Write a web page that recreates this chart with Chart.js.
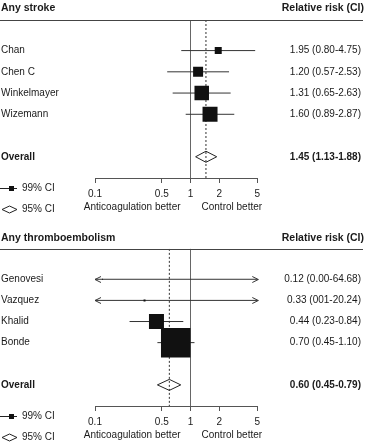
<!DOCTYPE html>
<html><head><meta charset="utf-8">
<script src="https://cdn.jsdelivr.net/npm/chart.js@4/dist/chart.umd.min.js"></script>
<style>
html,body{margin:0;padding:0;background:#fff;}
canvas{display:block;}
</style></head>
<body>
<canvas id="c1" width="367" height="228"></canvas>
<canvas id="c2" width="367" height="216"></canvas>
<script>
// ---------- data ----------
const strokeStudies = ['Chan', 'Chen C', 'Winkelmayer', 'Wizemann'];
const strokeRR = [1.95, 1.20, 1.31, 1.60];
const strokeLo = [0.80, 0.57, 0.65, 0.89];
const strokeHi = [4.75, 2.53, 2.63, 2.87];
const strokeWeight = [7, 10, 14.5, 15];
const strokeCI = ['1.95 (0.80-4.75)', '1.20 (0.57-2.53)', '1.31 (0.65-2.63)', '1.60 (0.89-2.87)'];
const strokeOverall = [1.45, 1.13, 1.88];
const strokeOverallCI = '1.45 (1.13-1.88)';

const teStudies = ['Genovesi', 'Vazquez', 'Khalid', 'Bonde'];
const teRR = [0.12, 0.33, 0.44, 0.70];
const teLo = [0.00, 0.01, 0.23, 0.45];
const teHi = [64.68, 20.24, 0.84, 1.10];
const teWeight = [1, 2, 15, 29.5];
const teCI = ['0.12 (0.00-64.68)', '0.33 (001-20.24)', '0.44 (0.23-0.84)', '0.70 (0.45-1.10)'];
const teOverall = [0.60, 0.45, 0.79];
const teOverallCI = '0.60 (0.45-0.79)';

const xTicks = [0.1, 0.5, 1, 2, 5];
const xMin = 0.1, xMax = 5;

// ---------- style ----------
const FONT = '"Liberation Sans", Arial, Helvetica, sans-serif';
const TXT = '#1a1a1a';
const LINE = '#333';
const AXIS = '#555';

function makePanel(canvas, p) {
  const n = p.studies.length;
  const rows = p.studies.map((s, i) => i + 1);
  const overallRow = n + 2;
  const yMin = -0.44, yMax = 7.0;
  const leftMap = {}, rightMap = {};
  rows.forEach((r, i) => { leftMap[r] = p.studies[i]; rightMap[r] = p.ci[i]; });
  leftMap[overallRow] = 'Overall';
  rightMap[overallRow] = p.overallCI;
  const tickRows = rows.concat([overallRow]);
  const H = canvas.height;
  const axisY = 178;

  const datasets = [];
  // boxes
  datasets.push({
    data: p.rr.map((v, i) => ({x: v, y: rows[i]})),
    showLine: false, pointStyle: 'rect',
    pointRadius: ctx => p.weight[ctx.dataIndex] / Math.SQRT2,
    backgroundColor: '#111', borderWidth: 0, order: 1
  });
  // CI lines
  p.rr.forEach((v, i) => {
    datasets.push({
      data: [{x: Math.max(p.lo[i], xMin), y: rows[i]}, {x: Math.min(p.hi[i], xMax), y: rows[i]}],
      showLine: true, pointRadius: 0, borderColor: LINE, borderWidth: 1, order: 2
    });
  });
  // overall diamond
  const dh = 0.26;
  const [oe, ol, oh] = p.overall;
  datasets.push({
    data: [{x: ol, y: overallRow}, {x: oe, y: overallRow - dh}, {x: oh, y: overallRow},
           {x: oe, y: overallRow + dh}, {x: ol, y: overallRow}],
    showLine: true, pointRadius: 0, borderColor: '#222', borderWidth: 1, order: 1
  });
  // dotted line at overall estimate
  datasets.push({
    data: [{x: oe, y: yMin}, {x: oe, y: yMax}],
    showLine: true, pointRadius: 0, borderColor: '#333', borderWidth: 1,
    borderDash: [2, 2], order: 3
  });

  const decor = {
    id: 'decor',
    afterDraw(chart) {
      const c = chart.ctx, a = chart.chartArea, xs = chart.scales.x, ys = chart.scales.y;
      c.save();
      // headers
      c.fillStyle = TXT;
      c.font = 'bold 10.5px ' + FONT;
      c.textBaseline = 'alphabetic';
      c.textAlign = 'left';
      c.fillText(p.title, 1, p.titleY);
      c.textAlign = 'right';
      c.fillText('Relative risk (CI)', 364, p.titleY);
      // header rule
      c.strokeStyle = '#444'; c.lineWidth = 1;
      c.beginPath(); c.moveTo(0, Math.round(a.top) + 0.5); c.lineTo(363, Math.round(a.top) + 0.5); c.stroke();
      // arrows for truncated CIs
      c.strokeStyle = LINE;
      rows.forEach((r, i) => {
        const y = Math.round(ys.getPixelForValue(r)) + 0.5;
        if (p.lo[i] < xMin) {
          const x = xs.getPixelForValue(xMin);
          c.beginPath(); c.moveTo(x + 6, y - 3); c.lineTo(x, y); c.lineTo(x + 6, y + 3); c.stroke();
        }
        if (p.hi[i] > xMax) {
          const x = xs.getPixelForValue(xMax) + 1;
          c.beginPath(); c.moveTo(x, y); c.lineTo(xs.getPixelForValue(xMax), y); c.stroke();
          c.beginPath(); c.moveTo(x - 6, y - 3); c.lineTo(x, y); c.lineTo(x - 6, y + 3); c.stroke();
        }
      });
      // direction labels
      const x1 = xs.getPixelForValue(1);
      c.font = '10px ' + FONT;
      c.fillStyle = TXT;
      c.textAlign = 'right';
      c.fillText('Anticoagulation better', x1 - 10, a.bottom + 32);
      c.textAlign = 'left';
      c.fillText('Control better', x1 + 11, a.bottom + 32);
      // legend
      const ly1 = Math.round(a.bottom + 10) + 0.5, ly2 = Math.round(a.bottom + 31) + 0.5;
      c.strokeStyle = '#222';
      c.beginPath(); c.moveTo(0, ly1); c.lineTo(17, ly1); c.stroke();
      c.fillStyle = '#111';
      c.fillRect(9, ly1 - 2.5, 5, 5);
      c.beginPath(); c.moveTo(2, ly2); c.lineTo(9.5, ly2 - 3.5); c.lineTo(17, ly2); c.lineTo(9.5, ly2 + 3.5); c.closePath(); c.stroke();
      c.fillStyle = TXT;
      c.textAlign = 'left'; c.textBaseline = 'middle';
      c.fillText('99% CI', 22, ly1);
      c.fillText('95% CI', 22, ly2);
      c.restore();
    }
  };

  const yCommon = {
    type: 'linear', min: yMin, max: yMax, reverse: true, bounds: 'data',
    grid: {display: false}, border: {display: false}
  };

  return new Chart(canvas, {
    type: 'scatter',
    data: {datasets},
    options: {
      responsive: false, animation: false, events: [],
      layout: {padding: {top: 20, left: 1, right: 6, bottom: 0}},
      plugins: {legend: {display: false}, tooltip: {enabled: false}},
      elements: {line: {tension: 0}},
      scales: {
        x: {
          type: 'logarithmic', min: xMin, max: xMax, bounds: 'data', position: 'bottom',
          afterBuildTicks: s => { s.ticks = xTicks.map(v => ({value: v})); },
          afterFit: s => { s.height = H - axisY; },
          ticks: {autoSkip: false, maxRotation: 0, minRotation: 0, padding: 5,
                  callback: v => String(v), color: TXT, font: {family: FONT, size: 10}},
          grid: {color: ctx => (ctx.tick && ctx.tick.value === 1) ? '#666' : 'rgba(0,0,0,0)',
                 tickColor: AXIS, tickLength: 5, lineWidth: 1},
          border: {display: true, color: AXIS, width: 1}
        },
        y: Object.assign({}, yCommon, {
          position: 'left',
          afterBuildTicks: s => { s.ticks = tickRows.map(v => ({value: v})); },
          afterFit: s => { s.width = 94; },
          ticks: {crossAlign: 'far', color: TXT, autoSkip: false,
                  callback: v => leftMap[v] || '',
                  font: ctx => ({family: FONT, size: 10, weight: (ctx.tick && ctx.tick.value === overallRow) ? 'bold' : 'normal'})}
        }),
        y2: Object.assign({}, yCommon, {
          position: 'right',
          afterBuildTicks: s => { s.ticks = tickRows.map(v => ({value: v})); },
          afterFit: s => { s.width = 103.7; },
          ticks: {crossAlign: 'far', color: TXT, autoSkip: false,
                  callback: v => rightMap[v] || '',
                  font: ctx => ({family: FONT, size: 10, weight: (ctx.tick && ctx.tick.value === overallRow) ? 'bold' : 'normal'})}
        })
      }
    },
    plugins: [decor]
  });
}

makePanel(document.getElementById('c1'), {
  title: 'Any stroke', titleY: 10.5,
  studies: strokeStudies, rr: strokeRR, lo: strokeLo, hi: strokeHi, weight: strokeWeight,
  ci: strokeCI, overall: strokeOverall, overallCI: strokeOverallCI
});
makePanel(document.getElementById('c2'), {
  title: 'Any thromboembolism', titleY: 13,
  studies: teStudies, rr: teRR, lo: teLo, hi: teHi, weight: teWeight,
  ci: teCI, overall: teOverall, overallCI: teOverallCI
});
</script>
</body></html>
